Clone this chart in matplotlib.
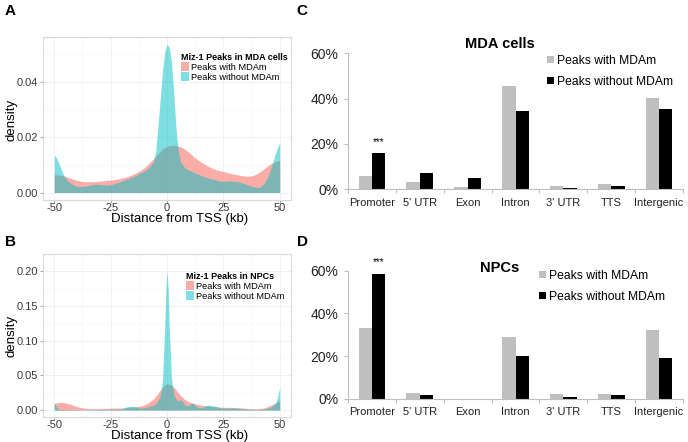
import numpy as np
import matplotlib
matplotlib.use("Agg")
import matplotlib.pyplot as plt
from matplotlib.patches import Patch

plt.rcParams["font.family"] = ["Liberation Sans", "DejaVu Sans"]
plt.rcParams["axes.unicode_minus"] = False

W, H = 688, 442
fig = plt.figure(figsize=(W / 100, H / 100), dpi=100)


def px_axes(l, t, r, b):
    return fig.add_axes([l / W, 1 - b / H, (r - l) / W, (b - t) / H])


# ---- density data (distance from TSS in kb) ----
a_cyan_x = [-50, -49, -48, -47, -46, -45, -44, -42, -40, -37, -35, -32, -30, -27, -25, -22, -20,
            -17, -15, -12, -10, -8, -6, -5, -4, -3, -2, -1, 0, 1, 2, 3, 4, 5, 6, 8, 10, 12, 15,
            18, 20, 22, 25, 28, 30, 32, 35, 37, 39, 40, 41, 42, 43, 44, 45, 46, 47, 48, 49, 50]
a_cyan_y = [0.0135, 0.0125, 0.0105, 0.0085, 0.0066, 0.0052, 0.0042, 0.0030, 0.0022, 0.0022,
            0.0025, 0.0030, 0.0029, 0.0027, 0.0028, 0.0035, 0.0041, 0.0050, 0.0057, 0.0070,
            0.0078, 0.0090, 0.0110, 0.0150, 0.0240, 0.0340, 0.0440, 0.0510, 0.0535, 0.0525,
            0.0470, 0.0360, 0.0230, 0.0150, 0.0110, 0.0088, 0.0080, 0.0072, 0.0062, 0.0053,
            0.0049, 0.0044, 0.0040, 0.0042, 0.0040, 0.0038, 0.0030, 0.0024, 0.0019, 0.0018,
            0.0019, 0.0024, 0.0033, 0.0045, 0.0062, 0.0085, 0.0112, 0.0138, 0.0162, 0.0180]

a_red_x = [-50, -47, -45, -43, -40, -37, -33, -30, -25, -22, -18, -15, -12, -10, -8, -6, -4, -2,
           0, 2, 4, 6, 8, 10, 12, 15, 18, 21, 25, 28, 30, 33, 36, 38, 40, 42, 44, 46, 48, 50]
a_red_y = [0.0065, 0.0062, 0.0058, 0.0052, 0.0044, 0.0039, 0.0039, 0.0041, 0.0045, 0.0048,
           0.0056, 0.0066, 0.0078, 0.0090, 0.0105, 0.0122, 0.0140, 0.0158, 0.0167, 0.0171,
           0.0170, 0.0165, 0.0156, 0.0143, 0.0128, 0.0111, 0.0096, 0.0084, 0.0076, 0.0069,
           0.0066, 0.0061, 0.0059, 0.0061, 0.0068, 0.0079, 0.0092, 0.0104, 0.0112, 0.0116]

b_cyan_x = [-50, -49.5, -49, -48, -45, -40, -35, -30, -25, -22, -20, -18, -16, -14, -12, -10, -8,
            -6, -5, -4, -3, -2, -1, -0.5, 0, 0.5, 1, 2, 3, 4, 5, 6, 7, 8, 9, 10, 11, 12, 13, 15,
            17, 18, 19, 21, 23, 25, 28, 30, 33, 36, 40, 43, 45, 46, 47, 48, 49, 49.5, 50]
b_cyan_y = [0.0100, 0.0085, 0.0040, 0.0015, 0.0008, 0.0005, 0.0005, 0.0008, 0.0010, 0.0012,
            0.0020, 0.0045, 0.0058, 0.0050, 0.0030, 0.0035, 0.0050, 0.0070, 0.0090, 0.0130,
            0.0200, 0.0450, 0.1200, 0.1750, 0.2000, 0.1750, 0.1200, 0.0450, 0.0220, 0.0160,
            0.0130, 0.0150, 0.0120, 0.0070, 0.0060, 0.0080, 0.0100, 0.0085, 0.0050, 0.0030,
            0.0060, 0.0070, 0.0068, 0.0060, 0.0040, 0.0025, 0.0030, 0.0030, 0.0022, 0.0012,
            0.0008, 0.0015, 0.0030, 0.0045, 0.0060, 0.0090, 0.0180, 0.0260, 0.0330]

b_red_x = [-50, -48, -46, -44, -42, -40, -37, -35, -30, -25, -20, -15, -12, -10, -8, -6, -4, -2,
           0, 2, 4, 6, 8, 10, 13, 16, 20, 25, 30, 35, 40, 43, 45, 47, 49, 50]
b_red_y = [0.0095, 0.0110, 0.0110, 0.0095, 0.0075, 0.0050, 0.0030, 0.0020, 0.0020, 0.0028,
           0.0030, 0.0040, 0.0055, 0.0075, 0.0110, 0.0160, 0.0240, 0.0330, 0.0380, 0.0360,
           0.0290, 0.0210, 0.0150, 0.0115, 0.0085, 0.0065, 0.0050, 0.0040, 0.0038, 0.0025,
           0.0018, 0.0030, 0.0055, 0.0085, 0.0120, 0.0130]

# ---- genomic annotation data (%) ----
categories = ["Promoter", "5' UTR", "Exon", "Intron", "3' UTR", "TTS", "Intergenic"]
mda_with = [5.9, 3.1, 1.0, 45.4, 1.6, 2.2, 40.1]
mda_without = [15.9, 7.1, 5.0, 34.7, 0.6, 1.3, 35.4]
npc_with = [33.3, 2.7, 0.0, 28.9, 2.0, 2.2, 32.0]
npc_without = [58.3, 1.7, 0.0, 19.8, 0.8, 1.7, 19.1]

red = "#F8766D"
cyan = "#00BFC4"


def density_panel(ax, cx, cy, rx, ry, ylim, yticks, legend_title, leg_xy):
    ax.fill_between(rx, 0, ry, color=red, alpha=0.6, linewidth=0)
    ax.fill_between(cx, 0, cy, color=cyan, alpha=0.5, linewidth=0)
    ax.set_xlim(-55, 55)
    ax.set_ylim(*ylim)
    ax.set_xticks([-50, -25, 0, 25, 50])
    ax.set_yticks(yticks)
    ax.set_yticklabels(["%.2f" % v for v in yticks])
    ax.set_xticks([-37.5, -12.5, 12.5, 37.5], minor=True)
    step = yticks[1] - yticks[0]
    ax.set_yticks([v + step / 2 for v in yticks], minor=True)
    ax.grid(True, which="major", color="#EEEEEE", linewidth=0.6)
    ax.grid(True, which="minor", color="#F6F6F6", linewidth=0.5)
    ax.set_axisbelow(True)
    for s in ax.spines.values():
        s.set_color("#D9D9D9")
        s.set_linewidth(0.8)
    ax.tick_params(which="major", length=2.5, width=0.6, color="#9A9A9A", pad=1,
                   labelsize=8, labelcolor="#3A3A3A")
    ax.tick_params(axis="x", which="major", length=2, pad=0)
    ax.tick_params(which="minor", length=0)
    handles = [Patch(facecolor=red, alpha=0.6, linewidth=0),
               Patch(facecolor=cyan, alpha=0.5, linewidth=0)]
    ax.legend(handles, ["Peaks with MDAm", "Peaks without MDAm"], title=legend_title,
              loc="upper left", bbox_to_anchor=(leg_xy[0] / W, 1 - leg_xy[1] / H),
              bbox_transform=fig.transFigure, frameon=False, fontsize=6.7,
              title_fontproperties={"weight": "bold", "size": 6.5}, alignment="left",
              borderpad=0, labelspacing=0, handlelength=0.9, handleheight=1.15,
              handletextpad=0.2, borderaxespad=0)


def bar_panel(ax, with_vals, without_vals, title, title_y, leg_xy, star_y):
    x = np.arange(len(categories))
    bw = 0.28
    ax.bar(x - bw / 2, with_vals, bw, color="#BFBFBF", label="Peaks with MDAm")
    ax.bar(x + bw / 2, without_vals, bw, color="black", label="Peaks without MDAm")
    ax.set_xlim(-0.5, len(categories) - 0.5)
    ax.set_ylim(0, 60)
    ax.set_yticks([0, 20, 40, 60])
    ax.set_yticklabels(["0%", "20%", "40%", "60%"])
    ax.set_xticks(x)
    ax.set_xticklabels(categories)
    ax.set_xticks(np.arange(-0.5, len(categories)), minor=True)
    for s in ["top", "right"]:
        ax.spines[s].set_visible(False)
    for s in ["left", "bottom"]:
        ax.spines[s].set_color("#BFBFBF")
        ax.spines[s].set_linewidth(0.8)
    ax.tick_params(axis="x", which="major", length=0, pad=6, labelsize=8, labelcolor="#222222")
    ax.tick_params(axis="x", which="minor", length=3, width=0.8, color="#BFBFBF")
    ax.tick_params(axis="y", length=3, width=0.8, color="#BFBFBF", pad=4, labelsize=10,
                   labelcolor="#222222")
    ax.text(x[0] + bw / 2, star_y, "***", ha="center", va="center", fontsize=7, clip_on=False)
    fig.text(500 / W, 1 - title_y / H, title, ha="center", va="center", fontsize=10.5,
             fontweight="bold")
    ax.legend(loc="upper left", bbox_to_anchor=(leg_xy[0] / W, 1 - leg_xy[1] / H),
              bbox_transform=fig.transFigure, frameon=False, fontsize=8.7, borderpad=0,
              labelspacing=0.75, handlelength=0.55, handleheight=0.55, handletextpad=0.3,
              borderaxespad=0)


axA = px_axes(43, 37, 291, 200)
density_panel(axA, a_cyan_x, a_cyan_y, a_red_x, a_red_y, (-0.0027, 0.0562),
              [0.00, 0.02, 0.04], "Miz-1 Peaks in MDA cells", (181, 53))
axB = px_axes(43, 254, 291, 417)
density_panel(axB, b_cyan_x, b_cyan_y, b_red_x, b_red_y, (-0.01, 0.211),
              [0.00, 0.05, 0.10, 0.15, 0.20], "Miz-1 Peaks in NPCs", (186, 272))

for yc in (120, 336):
    fig.text(11 / W, 1 - yc / H, "density", rotation=90, ha="center", va="center", fontsize=9.5)
for yt in (212.5, 430):
    fig.text(180 / W, 1 - yt / H, "Distance from TSS (kb)", ha="center", va="top", fontsize=9.5)

axC = px_axes(348, 53.3, 683, 189.3)
bar_panel(axC, mda_with, mda_without, "MDA cells", 44, (547, 55), 21)
axD = px_axes(348, 270.7, 683, 398.7)
bar_panel(axD, npc_with, npc_without, "NPCs", 268, (539, 270), 64)

for lab, (xp, yp) in zip("ABCD", [(10, 11), (10, 242), (302, 11), (302, 242)]):
    fig.text(xp / W, 1 - yp / H, lab, ha="center", va="center", fontsize=11, fontweight="bold")

fig.savefig("out.png", dpi=100)
